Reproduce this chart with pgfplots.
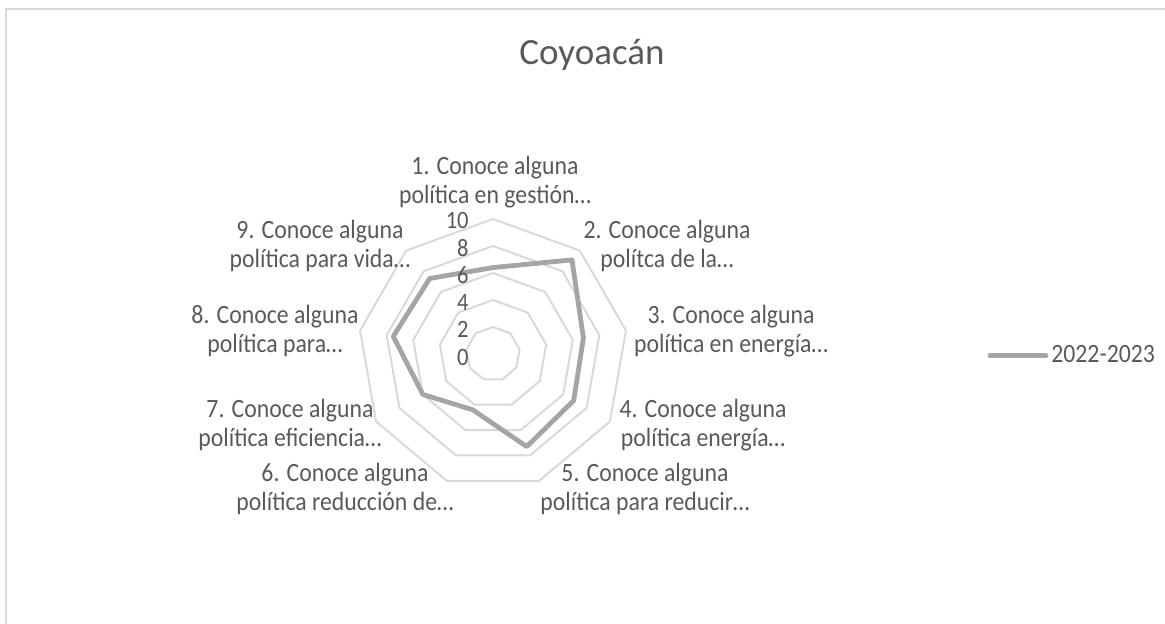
\documentclass[border=0pt]{standalone}
\usepackage{fontspec}
\setmainfont{Carlito}
\newfontfamily\lblfont[FakeStretch=0.9]{Carlito}
\usepackage{pgfplots}
\pgfplotsset{compat=1.18}
\definecolor{txt}{HTML}{595959}
\definecolor{gridc}{HTML}{D9D9D9}
\definecolor{ser}{HTML}{A5A5A5}

% 1 px of the reference = 0.5pt; radar centre at px (493,354), 10 units = 135 px
\newcommand{\px}[2]{({#1*0.5pt},{(624-#2)*0.5pt})}

\begin{document}
\begin{tikzpicture}
\begin{axis}[
    at={(0,0)}, anchor=south west,
    scale only axis,
    width=582.5pt, height=312pt,
    xmin=-36.5185, xmax=49.7778,
    ymin=-20.0, ymax=26.2222,
    hide axis,
    clip=false,
    legend style={at={(axis cs:36.6,-0.13)}, anchor=west, draw=none, fill=none,
        inner sep=0pt, font=\lblfont\fontsize{13.2}{14.5}\selectfont, text=txt,
        nodes={inner sep=1.5pt}},
    legend image code/.code={\draw[#1, line cap=round] (0pt,0pt) -- (28pt,0pt);},
]
\pgfplotsinvokeforeach{2,4,6,8,10}{
  \addplot[draw=gridc, line width=1pt, data cs=polar, forget plot] coordinates {
    (90,#1) (50,#1) (10,#1) (-30,#1) (-70,#1) (-110,#1) (-150,#1) (-190,#1) (-230,#1) (-270,#1)
  };
}
\addplot[draw=ser, line width=2.4pt, line join=round, data cs=polar] coordinates {
    (90,6.4) (50,9.1) (10,6.8) (-30,6.9) (-70,7.3) (-110,4.4) (-150,6.0) (-190,7.5) (-230,7.3) (-270,6.4)
};
\addlegendentry{2022-2023}
\end{axis}

% chart border (left and top edges visible)
\draw[gridc, line width=1pt] (3pt,0pt) -- (3pt,307.25pt) -- (582.5pt,307.25pt);

% title
\node[text=txt, font=\fontsize{18.5}{22}\selectfont] at \px{592}{55} {Coyoacán};

% radial value labels
\begin{scope}[every node/.style={text=txt, font=\lblfont\fontsize{12.5}{14.5}\selectfont, anchor=east, inner sep=0pt}]
\node at \px{469}{220} {10};
\node at \px{469}{248} {8};
\node at \px{469}{275} {6};
\node at \px{469}{302} {4};
\node at \px{469}{329} {2};
\node at \px{469}{357} {0};
\end{scope}

% category labels
\begin{scope}[every node/.style={text=txt, font=\lblfont\fontsize{13.2}{14.5}\selectfont, align=center, inner sep=0pt}]
\node at \px{495}{182} {1. Conoce alguna\\política en gestión…};
\node at \px{667}{246} {2. Conoce alguna\\polítca de la…};
\node at \px{731}{331} {3. Conoce alguna\\política en energía…};
\node at \px{703}{425} {4. Conoce alguna\\política energía…};
\node at \px{645}{489} {5. Conoce alguna\\política para reducir…};
\node at \px{345}{489} {6. Conoce alguna\\política reducción de…};
\node at \px{290}{425} {7. Conoce alguna\\política eficiencia…};
\node at \px{275}{331} {8. Conoce alguna\\política para…};
\node at \px{320}{246} {9. Conoce alguna\\política para vida…};
\end{scope}

\pgfresetboundingbox
\path (0pt,0pt) rectangle (582.5pt,312pt);
\end{tikzpicture}
\end{document}
